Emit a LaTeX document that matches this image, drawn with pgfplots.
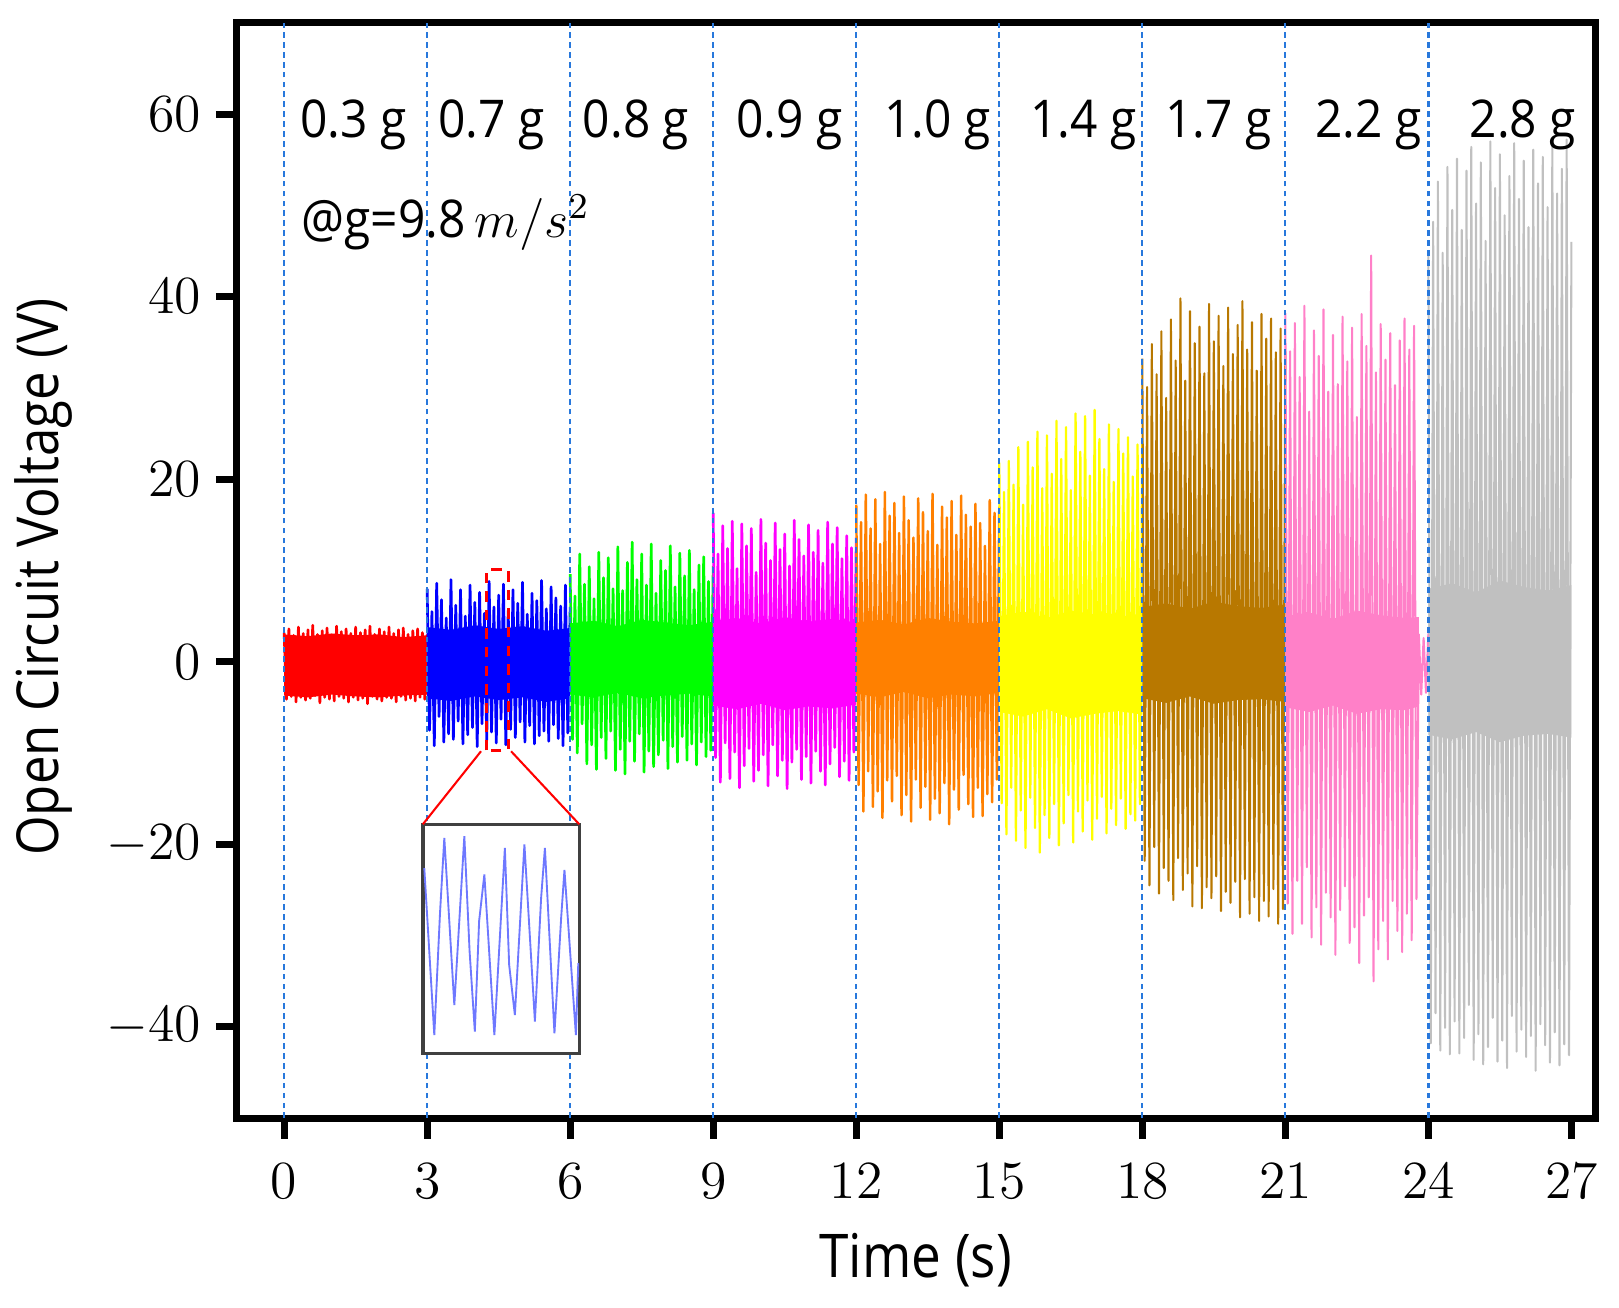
\RequirePackage{fix-cm}
\documentclass[border=0pt]{standalone}
\usepackage{pgfplots}
\pgfplotsset{compat=1.18}
\usepackage{fontspec}
\newfontfamily\labfont[FakeStretch=0.88]{Open Sans}
\newfontfamily\grpfont[FakeStretch=0.92]{Open Sans}
\definecolor{cRed}{RGB}{255,0,0}
\definecolor{cBlue}{RGB}{0,0,255}
\definecolor{cGreen}{RGB}{0,255,0}
\definecolor{cMag}{RGB}{255,0,255}
\definecolor{cOrange}{RGB}{255,128,0}
\definecolor{cYellow}{RGB}{255,255,0}
\definecolor{cBrown}{RGB}{184,120,0}
\definecolor{cPink}{RGB}{255,128,200}
\definecolor{cGray}{RGB}{192,192,192}
\definecolor{cDash}{RGB}{40,120,220}
\definecolor{cInset}{RGB}{110,120,255}
\newcommand{\seg}[4][0.65pt]{\addplot[color=#2, line width=#1, line join=round, no marks] table[row sep=\\, header=false, x expr=\coordindex*0.05+#3, y index=0]{#4};}
\newcommand{\core}[2]{\addplot[fill=#1, draw=none, no marks] coordinates {#2} -- cycle;}
\begin{document}
\begin{tikzpicture}
\path[use as bounding box] (-57.25pt,-45.75pt) rectangle (334.75pt,270.75pt);
\begin{axis}[
  at={(0pt,0pt)}, anchor=south west, scale only axis,
  width=329pt, height=265.25pt,
  xmin=-1, xmax=27.5, ymin=-50, ymax=70,
  xtick={0,3,...,27}, ytick={-40,-20,0,20,40,60},
  tick align=outside, tick pos=left,
  major tick length=5pt,
  axis line style={line width=1.8pt},
  every tick/.style={black, line width=1.7pt},
  tick label style={font=\fontsize{13}{15}\selectfont},
  xticklabel style={yshift=-2.5pt},
  clip=false,
]
% dense cores of each segment
\core{cRed}{(0,3.0)(0.5,2.8)(1,3.1)(1.5,2.9)(2,3.0)(2.5,2.7)(3,2.9)(3,-3.6)(2.5,-3.7)(2,-3.9)(1.5,-3.8)(1,-3.6)(0.5,-3.9)(0,-3.7)}
\core{cBlue}{(3,3.8)(3.5,3.5)(4,4.0)(4.5,3.6)(5,3.9)(5.5,3.4)(6,3.7)(6,-4.0)(5.5,-4.4)(5,-3.9)(4.5,-4.2)(4,-3.8)(3.5,-4.3)(3,-4.0)}
\core{cGreen}{(6,4.2)(6.5,4.5)(7,3.9)(7.5,4.6)(8,4.3)(8.5,4.0)(9,4.4)(9,-3.8)(8.5,-3.5)(8,-3.7)(7.5,-4.0)(7,-3.4)(6.5,-3.9)(6,-3.6)}
\core{cMag}{(9,4.5)(9.5,4.8)(10,4.2)(10.5,4.9)(11,4.4)(11.5,4.7)(12,4.3)(12,-4.7)(11.5,-5.1)(11,-4.9)(10.5,-5.3)(10,-4.6)(9.5,-5.2)(9,-4.8)}
\core{cOrange}{(12,4.3)(12.5,4.6)(13,4.1)(13.5,4.8)(14,4.4)(14.5,4.2)(15,4.5)(15,-3.4)(14.5,-3.8)(14,-3.6)(13.5,-4.0)(13,-3.3)(12.5,-3.9)(12,-3.5)}
\core{cYellow}{(15,5.0)(15.5,5.5)(16,4.8)(16.5,5.6)(17,5.2)(17.5,4.9)(18,5.3)(18,-5.8)(17.5,-5.4)(17,-5.7)(16.5,-6.2)(16,-5.2)(15.5,-6.0)(15,-5.5)}
\core{cBrown}{(18,6.0)(18.5,6.4)(19,5.8)(19.5,6.6)(20,6.1)(20.5,5.9)(21,6.3)(21,-4.4)(20.5,-4.1)(20,-4.2)(19.5,-4.6)(19,-3.8)(18.5,-4.5)(18,-4.0)}
\core{cPink}{(21,5.0)(21.5,5.4)(22,4.7)(22.5,5.6)(23,5.1)(23.5,4.8)(23.8,4.9)(23.8,-4.9)(23.5,-5.3)(23,-5.2)(22.5,-5.7)(22,-4.8)(21.5,-5.5)(21,-5.0)}
\core{cGray}{(24,8.0)(24.5,8.6)(25,7.6)(25.5,8.9)(26,8.2)(26.5,7.8)(27,8.4)(27,-8.3)(26.5,-7.9)(26,-8.1)(25.5,-8.8)(25,-7.7)(24.5,-8.5)(24,-8.0)}
\seg{cRed}{0}{3.2\\-4.1\\3.6\\-3.8\\2.9\\-4.4\\3.8\\-3.9\\3.1\\-4.2\\
3.5\\-4.0\\4.0\\-3.7\\3.0\\-4.5\\3.4\\-3.9\\3.7\\-4.1\\
2.9\\-4.3\\3.9\\-3.8\\3.3\\-4.0\\3.6\\-4.4\\3.1\\-3.9\\
3.8\\-4.2\\3.2\\-4.0\\3.5\\-4.6\\3.9\\-3.8\\3.0\\-4.1\\
3.6\\-4.3\\3.3\\-3.9\\3.8\\-4.0\\3.1\\-4.4\\3.5\\-3.8\\
3.7\\-4.2\\3.0\\-4.0\\3.4\\-4.3\\3.6\\-3.9\\3.2\\-4.1\\
3.0\\}
\seg{cBlue}{3}{8.0\\-7.5\\5.5\\-9.2\\8.6\\-6.0\\6.8\\-8.8\\4.8\\-7.9\\
9.0\\-8.5\\6.2\\-6.5\\7.9\\-9.0\\5.0\\-8.0\\8.4\\-7.2\\
6.5\\-9.3\\7.6\\-6.8\\5.3\\-8.6\\8.8\\-7.7\\6.0\\-8.9\\
7.3\\-6.3\\8.5\\-9.1\\5.6\\-7.4\\7.9\\-8.3\\6.4\\-6.6\\
8.7\\-8.8\\5.2\\-7.0\\7.5\\-9.0\\6.7\\-8.1\\8.9\\-7.6\\
5.8\\-8.7\\8.2\\-6.9\\7.0\\-8.4\\6.1\\-9.2\\8.4\\-7.8\\
6.0\\}
\seg{cGreen}{6}{9.6\\-8.5\\7.2\\-10.0\\11.8\\-6.8\\8.5\\-11.2\\10.4\\-9.1\\
6.9\\-11.8\\12.0\\-8.3\\9.2\\-10.6\\11.4\\-7.6\\8.0\\-11.9\\
12.6\\-9.6\\7.8\\-12.3\\10.9\\-8.7\\13.1\\-10.9\\9.0\\-7.9\\
11.8\\-12.1\\8.4\\-9.8\\12.9\\-11.5\\7.5\\-10.2\\11.1\\-8.6\\
10.0\\-11.7\\12.7\\-9.3\\8.2\\-11.0\\11.9\\-8.2\\9.4\\-10.8\\
12.2\\-9.0\\7.9\\-11.3\\10.6\\-8.8\\11.5\\-10.4\\8.8\\-9.7\\
10.5\\}
\seg{cMag}{9}{16.3\\-10.5\\11.8\\-13.2\\14.9\\-8.9\\12.4\\-12.8\\15.4\\-9.9\\
10.2\\-13.8\\15.1\\-11.4\\12.7\\-9.5\\14.6\\-13.1\\9.8\\-11.9\\
15.6\\-10.2\\13.0\\-13.6\\11.1\\-9.1\\15.2\\-12.5\\12.3\\-10.8\\
14.0\\-13.9\\10.5\\-11.0\\15.5\\-9.6\\13.4\\-12.9\\11.6\\-10.4\\
15.0\\-13.3\\12.0\\-9.8\\14.4\\-12.0\\10.8\\-13.5\\15.3\\-11.2\\
12.9\\-9.4\\14.7\\-12.6\\11.3\\-10.9\\13.8\\-13.0\\12.5\\-9.9\\
13.6\\}
\seg[0.6pt]{cOrange}{12}{17.2\\-13.5\\15.3\\-16.4\\18.3\\-12.0\\14.6\\-15.9\\17.8\\-14.2\\
12.9\\-17.1\\18.6\\-13.0\\16.0\\-15.3\\17.4\\-12.5\\14.1\\-16.8\\
18.1\\-14.6\\15.5\\-17.5\\13.6\\-12.9\\17.9\\-16.0\\16.4\\-13.7\\
14.3\\-17.3\\18.4\\-15.0\\12.8\\-16.6\\17.0\\-13.3\\15.8\\-17.8\\
17.6\\-14.0\\13.9\\-16.2\\18.2\\-12.4\\16.1\\-15.6\\14.8\\-17.0\\
17.3\\-13.8\\15.2\\-16.9\\12.7\\-14.5\\17.7\\-15.4\\16.3\\-12.9\\
17.0\\}
\seg[0.55pt]{cYellow}{15}{21.8\\-15.5\\18.6\\-18.9\\22.0\\-13.8\\19.4\\-19.6\\23.5\\-16.3\\
17.2\\-20.4\\24.1\\-14.9\\21.3\\-18.2\\25.2\\-20.9\\19.0\\-16.8\\
24.8\\-19.3\\20.6\\-15.6\\26.4\\-20.1\\22.2\\-17.7\\25.7\\-14.6\\
18.8\\-19.8\\27.2\\-16.4\\23.0\\-18.6\\26.9\\-15.2\\20.4\\-19.5\\
27.6\\-17.2\\24.4\\-14.8\\21.1\\-18.8\\26.0\\-16.1\\19.7\\-17.9\\
25.5\\-15.0\\22.8\\-18.3\\24.6\\-16.7\\20.3\\-17.4\\23.8\\-15.6\\
24.2\\}
\seg[0.5pt]{cBrown}{18}{33.2\\-21.8\\30.1\\-24.5\\34.8\\-20.3\\31.5\\-25.4\\36.2\\-22.6\\
28.9\\-24.0\\37.5\\-26.1\\33.0\\-21.5\\39.8\\-25.0\\30.8\\-23.2\\
38.4\\-26.8\\34.9\\-22.4\\36.7\\-27.0\\31.6\\-24.7\\39.2\\-25.9\\
35.1\\-23.5\\37.9\\-27.3\\32.4\\-25.2\\38.8\\-26.4\\33.7\\-24.1\\
36.9\\-28.0\\39.5\\-23.8\\34.2\\-27.6\\37.2\\-25.8\\31.9\\-28.4\\
38.1\\-26.2\\35.4\\-27.9\\37.6\\-24.9\\33.9\\-28.7\\36.5\\-27.1\\
34.0\\}
\seg[0.5pt]{cPink}{21}{38.2\\-26.5\\34.0\\-29.8\\37.1\\-24.0\\31.2\\-28.7\\39.0\\-22.5\\
27.4\\-30.2\\36.3\\-26.9\\33.5\\-31.0\\38.6\\-25.3\\29.6\\-28.0\\
35.8\\-32.1\\30.4\\-27.2\\37.8\\-24.6\\32.9\\-30.8\\36.6\\-29.1\\
26.8\\-33.0\\38.1\\-27.8\\34.6\\-25.8\\44.5\\-35.0\\31.7\\-31.5\\
37.0\\-28.4\\33.1\\-32.6\\36.0\\-26.2\\30.3\\-29.5\\35.2\\-31.8\\
37.6\\-27.6\\34.2\\-30.5\\36.8\\-26.0\\3.0\\-3.6\\2.6\\-3.4\\
3.1\\}
\seg[0.5pt]{cGray}{24}{45.0\\-41.8\\48.2\\-38.5\\52.6\\-42.6\\44.8\\-40.1\\54.2\\-43.0\\
49.5\\-39.4\\55.1\\-42.9\\47.3\\-41.2\\53.8\\-37.6\\56.4\\-43.6\\
50.2\\-40.8\\54.7\\-44.1\\46.1\\-42.2\\57.0\\-39.0\\51.9\\-43.8\\
55.6\\-41.5\\48.9\\-44.5\\53.2\\-38.8\\56.8\\-42.7\\50.7\\-40.3\\
54.9\\-43.3\\47.6\\-41.0\\56.1\\-44.8\\52.4\\-39.7\\55.3\\-42.0\\
49.8\\-43.9\\56.6\\-40.6\\51.3\\-44.2\\54.0\\-41.9\\57.2\\-43.1\\
46.0\\}
% dashed separators
\foreach \xx in {0,3,6,9,12,15,18,21,24}{
  \edef\tmp{\noexpand\draw[cDash, line width=0.55pt, dash pattern=on 1.4pt off 1pt] (axis cs:\xx,-50) -- (axis cs:\xx,70);}\tmp
}
% inset
\draw[line width=0.8pt, draw=black!75, fill=white] (axis cs:2.91,-17.8) rectangle (axis cs:6.19,-42.9);
\addplot[color=cInset, line width=0.45pt, no marks] coordinates {
(2.94,-22.6) (3.15,-40.9) (3.27,-27.5) (3.36,-19.3) (3.57,-37.6) (3.78,-19.1)
(3.89,-31.7) (4.00,-40.5) (4.09,-28.4) (4.20,-23.3) (4.41,-40.9) (4.63,-20.4)
(4.72,-33.2) (4.84,-38.7) (5.04,-20.0) (5.26,-39.4) (5.39,-25.9) (5.47,-20.4)
(5.67,-40.7) (5.81,-28.1) (5.88,-22.8) (6.12,-40.9) (6.17,-33.0)};
\draw[red, line width=0.8pt, dash pattern=on 2.5pt off 2pt] (axis cs:4.24,-9.7) rectangle (axis cs:4.70,10.1);
\draw[red, line width=0.5pt] (axis cs:4.13,-9.8) -- (axis cs:2.91,-17.8);
\draw[red, line width=0.5pt] (axis cs:4.76,-9.8) -- (axis cs:6.19,-17.8);
% group labels
\foreach \xx/\tt in {1.45/0.3 g,4.35/0.7 g,7.38/0.8 g,10.6/0.9 g,13.7/1.0 g,16.77/1.4 g,19.6/1.7 g,22.74/2.2 g,25.98/2.8 g}{
  \edef\tmp{\noexpand\node[anchor=base, inner sep=0pt, font=\noexpand\fontsize{12.6}{14}\noexpand\selectfont\noexpand\grpfont] at (axis cs:\xx,57.4) {\tt};}\tmp
}
\node[anchor=base west, inner sep=0pt, font=\fontsize{12.6}{14}\selectfont\grpfont] at (axis cs:0.35,46.5) {@g=9.8\,$m/s^2$};
\node[anchor=base, inner sep=0pt, font=\fontsize{14.6}{16}\selectfont\labfont] at ([yshift=-38.5pt]rel axis cs:0.5,0) {Time (s)};
\node[anchor=base, rotate=90, inner sep=0pt, font=\fontsize{14}{16}\selectfont\labfont] at ([xshift=-43pt]rel axis cs:0,0.494) {Open Circuit Voltage (V)};
\end{axis}
\end{tikzpicture}
\end{document}
